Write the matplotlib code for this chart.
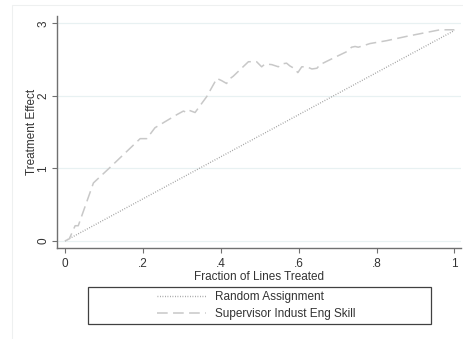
import matplotlib.pyplot as plt
from matplotlib.patches import Rectangle
from matplotlib.lines import Line2D

plt.rcParams['font.family'] = ['Liberation Sans', 'DejaVu Sans']

# Random assignment: straight line from origin to the full effect
random_x = [0.0, 1.0]
random_y = [0.0, 2.90]

# Targeting by supervisor industrial engineering skill
skill_x = [0.0, 0.011, 0.026, 0.034, 0.073, 0.111, 0.193, 0.21, 0.231, 0.287,
           0.304, 0.313, 0.319, 0.334, 0.364, 0.39, 0.402, 0.415, 0.422, 0.432,
           0.471, 0.492, 0.505, 0.514, 0.531, 0.548, 0.557, 0.569, 0.578, 0.588,
           0.598, 0.608, 0.621, 0.634, 0.647, 0.655, 0.689, 0.724, 0.736, 0.745,
           0.753, 0.766, 0.783, 0.826, 0.878, 0.963, 1.0]
skill_y = [0.0, 0.03, 0.21, 0.21, 0.80, 0.99, 1.41, 1.41, 1.56, 1.74,
           1.79, 1.77, 1.80, 1.77, 1.99, 2.24, 2.21, 2.17, 2.23, 2.27,
           2.47, 2.47, 2.40, 2.44, 2.43, 2.40, 2.44, 2.45, 2.41, 2.38,
           2.32, 2.40, 2.40, 2.37, 2.38, 2.43, 2.52, 2.61, 2.67, 2.68,
           2.67, 2.69, 2.72, 2.76, 2.82, 2.91, 2.91]

xticks = [0, 0.2, 0.4, 0.6, 0.8, 1.0]
xtick_labels = ['0', '.2', '.4', '.6', '.8', '1']
yticks = [0, 1, 2, 3]

W, H = 463, 339
fig = plt.figure(figsize=(W / 100, H / 100), dpi=100)

# faint outer graph region border
fig.patches.append(Rectangle((12 / W, -0.1), 1.2, 1 - 5 / H + 0.1, transform=fig.transFigure,
                             fill=False, edgecolor='#eef0f0', linewidth=0.8))

ax = fig.add_axes([57 / W, 1 - 248 / H, (461 - 57) / W, (248 - 16) / H])
ax.set_xlim(-0.0206, 1.017)
ax.set_ylim(-0.097, 3.10)

for y in yticks:
    ax.axhline(y, color='#e8f1f2', linewidth=0.9, zorder=0)

ax.plot(random_x, random_y, color='#9a9a9a', linestyle=(0, (0.6, 1.2)), linewidth=1.0)
ax.plot(skill_x, skill_y, color='#c8c8c8', linestyle=(0, (7, 3.5)), linewidth=1.1)

for side in ['top', 'right']:
    ax.spines[side].set_visible(False)
for side in ['left', 'bottom']:
    ax.spines[side].set_color('#707070')
    ax.spines[side].set_linewidth(1.0)

ax.set_xticks(xticks)
ax.set_xticklabels(xtick_labels)
ax.set_yticks(yticks)
ax.set_yticklabels([str(v) for v in yticks], rotation=90, va='center')
ax.tick_params(axis='both', direction='out', length=3.6, width=0.8, color='#707070',
               labelsize=8.5, labelcolor='#333333', pad=3.5)
ax.tick_params(axis='y', pad=1.8)

ax.set_xlabel('Fraction of Lines Treated', fontsize=8.5, color='#333333', labelpad=1)
ax.set_ylabel('Treatment Effect', fontsize=8.5, color='#333333')
ax.yaxis.set_label_coords(-0.0458, 0.5)

# legend box
fig.patches.append(Rectangle((88 / W, 1 - 324 / H), (431 - 88) / W, (324 - 287) / H,
                             transform=fig.transFigure, fill=False,
                             edgecolor='#404040', linewidth=0.9))
handles = [Line2D([], [], color='#9a9a9a', linestyle=(0, (0.6, 1.2)), linewidth=1.0),
           Line2D([], [], color='#c8c8c8', linestyle=(0, (7, 3.5)), linewidth=1.1)]
fig.legend(handles, ['Random Assignment', 'Supervisor Indust Eng Skill'],
           loc='center', bbox_to_anchor=(256 / W, 1 - 305.5 / H), frameon=False,
           fontsize=8.5, handlelength=4.2, handletextpad=0.7, labelspacing=0.45,
           labelcolor='#333333')

fig.savefig('out.png', dpi=100)
